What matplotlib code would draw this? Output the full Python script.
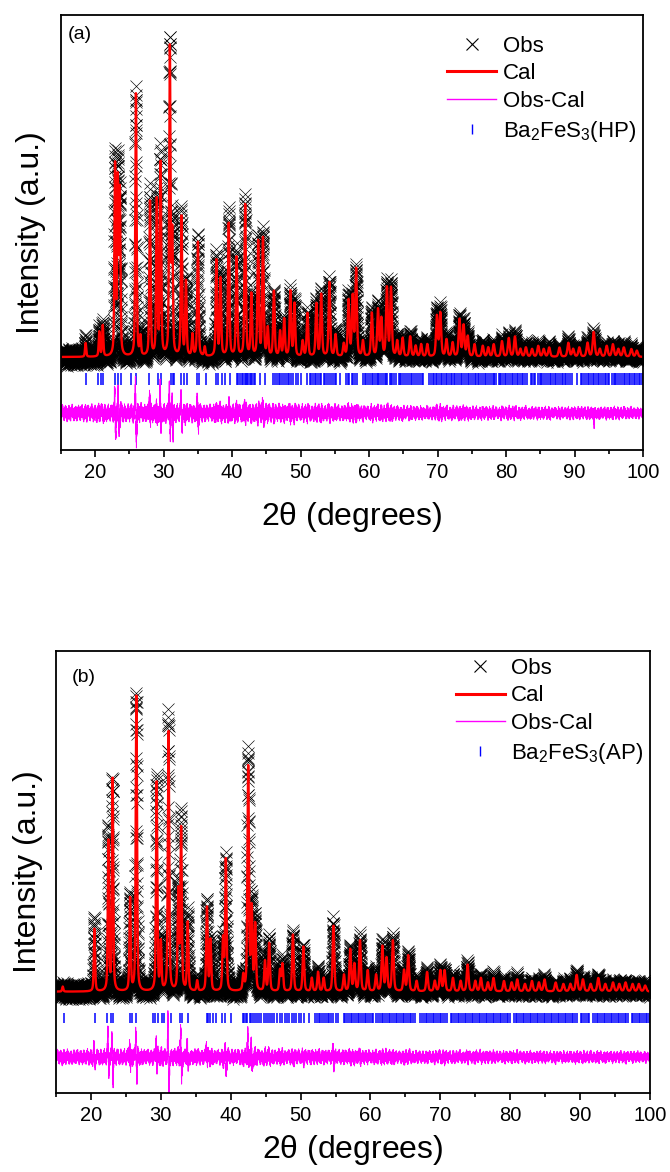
import numpy as np
import matplotlib.pyplot as plt
from matplotlib.lines import Line2D

plt.rcParams['font.family'] = ['Liberation Sans', 'DejaVu Sans']
plt.rcParams['mathtext.fontset'] = 'custom'
plt.rcParams['mathtext.rm'] = 'Liberation Sans'
plt.rcParams['mathtext.it'] = 'Liberation Sans'
plt.rcParams['mathtext.default'] = 'regular'

# 2theta grid of the scan (degrees)
tth = np.arange(15.0, 100.0001, 0.01)

# ---- (a) Ba2FeS3 high-pressure phase ----
pk_pos_a = [18.6, 20.6, 21.1, 22.9, 23.3, 23.6, 25.95, 26.6, 28.0, 29.0, 29.55, 30.9,
            31.25, 32.6, 33.25, 34.2, 35.0, 36.0, 37.7, 38.3, 39.5, 40.65, 41.9, 42.8,
            43.8, 44.5, 45.2, 46.1, 47.0, 47.6, 48.5, 49.1, 50.3, 51.0, 52.3, 53.0,
            54.2, 55.1, 56.3, 57.0, 57.6, 58.1, 59.1, 60.4, 61.3, 61.8, 62.6, 63.2,
            64.1, 64.9, 66.0, 66.8, 67.6, 68.5, 69.9, 70.4, 71.3, 72.2, 73.2, 73.8,
            74.4, 75.4, 76.6, 77.4, 78.2, 79.4, 80.4, 81.3, 82.1, 82.9, 83.8, 84.7,
            85.5, 86.3, 87.8, 89.1, 89.8, 90.7, 91.9, 92.8, 93.7, 94.7, 95.6, 96.4,
            97.2, 98.3, 99.1]
pk_amp_a = [4.5, 8, 10, 61, 55, 52, 85, 6, 50, 50, 62, 99,
            38, 45, 24, 7, 37, 3, 31, 25, 43, 32, 49, 20,
            37, 38, 9, 21, 8, 12, 21, 17, 5, 14, 17, 20,
            24, 7, 4, 18, 19, 28, 5, 14, 15, 12, 22, 22,
            5, 6, 6.5, 3.5, 4, 4, 13, 14, 5.5, 4.5, 12, 10,
            6.5, 4, 3.5, 3, 4, 5, 6, 6.5, 2.5, 3, 2.5, 3.5,
            2.5, 3, 3, 4.5, 2.5, 3, 4.5, 8, 2.5, 3.5, 4, 2.5,
            3, 2.5, 2]
ticks_a = [18.6, 20.4, 20.9, 21.2, 22.9, 23.4, 23.7, 25.3, 25.9, 27.9, 29.2, 29.6,
           31.0, 31.3, 31.5, 32.6, 32.9, 33.4, 34.8, 35.2, 36.2, 37.6, 37.9, 38.5,
           39.0, 39.7, 40.7, 40.9, 41.2, 41.5, 41.6, 41.9, 42.0, 42.2, 42.3, 42.6,
           42.7, 42.9, 43.2, 43.4, 44.0, 44.8, 46.0, 46.3, 46.5, 46.8, 47.0, 47.3,
           47.6, 47.8, 48.1, 48.3, 48.6, 48.9, 49.3, 49.6, 50.1, 51.0, 51.3, 51.5,
           51.8, 52.1, 52.2, 52.6, 52.8, 53.0, 53.4, 53.6, 53.9, 54.1, 54.4, 54.7,
           55.0, 55.2, 55.7, 56.6, 56.9, 57.1, 57.5, 57.7, 58.0, 58.2, 59.1, 59.4,
           59.5, 59.9, 60.1, 60.4, 60.6, 60.8, 61.1, 61.3, 61.4, 61.8, 62.0, 62.3,
           62.5, 62.6, 63.0, 63.2, 63.4, 63.7, 64.0, 64.3, 64.5, 64.7, 65.0, 65.3,
           65.6, 65.8, 66.1, 66.2, 66.6, 66.9, 67.2, 67.4, 67.7, 67.9, 68.7, 69.0,
           69.3, 69.5, 69.7, 69.9, 70.2, 70.5, 70.7, 70.9, 71.2, 71.4, 71.7, 71.9,
           72.1, 72.4, 72.6, 72.8, 73.1, 73.4, 73.6, 73.9, 74.2, 74.4, 74.6, 74.9,
           75.2, 75.4, 75.6, 75.9, 76.1, 76.4, 76.7, 76.9, 77.1, 77.4, 77.6, 77.9,
           78.2, 78.3, 78.6, 78.9, 79.1, 79.3, 79.6, 79.8, 80.0, 80.3, 80.6, 80.8,
           81.0, 81.3, 81.6, 81.8, 82.0, 82.3, 82.5, 82.8, 83.0, 83.6, 83.8, 84.1,
           84.3, 84.6, 84.9, 85.1, 85.3, 85.6, 85.8, 86.1, 86.4, 86.6, 86.8, 87.1,
           87.3, 87.6, 87.9, 88.1, 88.3, 88.6, 88.8, 89.1, 89.4, 89.6, 90.3, 90.9,
           91.1, 91.4, 91.7, 91.9, 92.1, 92.4, 92.7, 92.9, 93.1, 93.4, 93.6, 93.9,
           94.2, 94.4, 94.6, 94.9, 95.1, 95.4, 95.7, 95.9, 96.1, 96.4, 96.6, 96.9,
           97.2, 97.4, 97.6, 97.9, 98.1, 98.4, 98.7, 98.9, 99.1, 99.4, 99.6, 99.9]
# misfit features in Obs-Cal: position, positive lobe, negative lobe
sp_pos_a = [22.9, 23.4, 25.95, 28.0, 29.0, 29.55, 30.9, 31.3, 32.6, 35.0, 39.6, 41.9, 44.5, 92.8]
sp_up_a = [6.5, 5, 8, 6, 3, 7.5, 9, 5, 4, 4, 3, 4, 2, 0.5]
sp_dn_a = [7, 5, 7, 3, 3, 6, 7.5, 6, 4, 3, 2, 2, 2, 4]

# ---- (b) Ba2FeS3 ambient-pressure phase ----
pk_pos_b = [15.96, 20.5, 22.5, 23.1, 25.6, 26.5, 29.4, 30.0, 31.1, 32.5, 32.9, 33.85,
            35.2, 36.6, 37.1, 38.9, 39.3, 41.8, 42.5, 43.0, 43.5, 44.9, 45.5, 47.05,
            47.4, 48.9, 50.4, 51.6, 52.5, 53.3, 54.7, 56.2, 57.1, 57.7, 58.5, 59.6,
            60.8, 61.7, 62.3, 63.2, 64.8, 65.4, 66.6, 68.1, 69.2, 70.0, 70.6, 71.8,
            72.9, 73.9, 75.0, 75.8, 76.8, 77.6, 79.1, 80.2, 81.0, 82.1, 83.1, 84.1,
            84.9, 86.5, 87.6, 88.6, 89.5, 90.4, 91.5, 92.6, 93.6, 94.7, 95.6, 96.5,
            97.5, 98.4, 99.3]
pk_amp_b = [1.7, 21, 50, 71, 31, 99, 70, 16, 87, 33, 54, 23,
            3.5, 28, 17, 17, 44, 5, 75, 27, 22, 10, 16, 7,
            9, 19, 15, 4.5, 6.5, 4.5, 22, 5.5, 14, 9, 17, 7,
            5.5, 15, 11, 17, 7, 12, 3.5, 6.5, 3.5, 7, 7, 4.5,
            3.5, 9, 3.5, 4.5, 3, 4.5, 3.5, 3, 4, 2.5, 3.5, 3,
            4, 3, 2.5, 2.5, 5.5, 4, 2.5, 4.5, 2.5, 3, 2.5, 3,
            2.5, 2.5, 2]
ticks_b = [16.2, 20.6, 22.3, 22.8, 23.2, 25.6, 25.9, 26.4, 28.9, 29.2, 29.6, 30.1,
           30.5, 31.0, 31.4, 32.7, 33.0, 33.9, 36.6, 36.8, 37.1, 37.4, 37.9, 38.8,
           39.2, 40.0, 41.7, 41.9, 42.2, 42.4, 42.7, 42.9, 43.2, 43.5, 43.8, 44.0,
           44.4, 44.7, 45.0, 45.3, 45.6, 45.9, 46.2, 46.6, 47.0, 47.4, 47.7, 48.0,
           48.3, 48.7, 49.0, 49.4, 49.7, 50.1, 50.5, 51.2, 52.1, 52.3, 52.6, 52.8,
           53.1, 53.3, 53.6, 53.9, 54.1, 54.4, 54.7, 55.0, 55.3, 56.2, 56.4, 56.7,
           56.9, 57.2, 57.4, 57.7, 57.9, 58.2, 58.4, 58.7, 58.9, 59.2, 59.4, 59.7,
           59.9, 60.2, 60.4, 60.8, 61.1, 61.3, 61.6, 61.8, 62.1, 62.3, 62.6, 62.8,
           63.1, 63.3, 63.6, 63.8, 64.1, 64.3, 64.6, 64.8, 65.1, 65.3, 65.6, 65.8,
           66.1, 66.3, 67.1, 67.4, 67.6, 67.9, 68.1, 68.4, 68.6, 68.9, 69.1, 69.4,
           69.6, 69.9, 70.1, 70.4, 70.6, 70.9, 71.5, 71.7, 72.0, 72.2, 72.5, 72.7,
           73.0, 73.2, 73.5, 73.7, 74.0, 74.2, 74.5, 74.7, 75.0, 75.2, 75.5, 75.7,
           76.0, 76.2, 76.5, 76.7, 77.0, 77.2, 77.5, 77.7, 78.0, 78.2, 78.5, 78.7,
           79.0, 79.2, 79.5, 79.7, 80.0, 80.5, 80.8, 81.0, 81.3, 81.5, 81.8, 82.0,
           82.3, 82.5, 82.8, 83.0, 83.3, 83.5, 83.8, 84.0, 84.3, 84.5, 84.8, 85.0,
           85.3, 85.5, 85.8, 86.0, 86.3, 86.5, 86.8, 87.0, 87.3, 87.5, 87.8, 88.0,
           88.3, 88.5, 88.8, 89.0, 89.3, 89.6, 90.1, 90.3, 90.6, 90.8, 91.1, 91.3,
           91.9, 92.1, 92.4, 92.6, 92.9, 93.1, 93.4, 93.6, 93.9, 94.1, 94.4, 94.6,
           94.9, 95.1, 95.4, 95.6, 95.9, 96.1, 96.4, 96.6, 96.9, 97.4, 97.6, 97.9,
           98.1, 98.4, 98.6, 98.9, 99.1, 99.4, 99.6, 99.9]
sp_pos_b = [20.5, 22.5, 23.1, 25.6, 26.5, 29.4, 31.1, 32.9, 33.85, 36.6, 39.3, 42.5, 43.0, 54.7]
sp_up_b = [3, 8, 7, 5, 9, 6, 12, 10, 4, 4.5, 2, 7, 5, 2.5]
sp_dn_b = [2, 4, 7.5, 3, 8, 3.5, 11, 7.5, 4, 2, 4, 3, 4, 2]

# counting scatter: a fast and a slow residual pattern (normalised), repeated along the scan
resid_fast = [0.31, -0.72, 0.55, -0.18, 0.93, -0.47, 0.12, -0.88, 0.66, 0.04,
              -0.35, 0.79, -0.61, 0.27, -0.95, 0.48, -0.09, 0.71, -0.53, 0.38,
              -0.24, 0.86, -0.77, 0.15, -0.42, 0.59, -0.66, 0.97, -0.13, 0.22,
              -0.84, 0.44, -0.31, 0.68, -0.57, 0.08, -0.92, 0.51, -0.20, 0.75,
              -0.39, 0.63, -0.70, 0.19, -0.05, 0.82, -0.64, 0.35, -0.99, 0.57,
              -0.28, 0.11, -0.50]
resid_slow = [0.2, 0.6, 0.9, 0.4, -0.3, -0.8, -0.5, 0.1, 0.7, 0.3, -0.6, -0.9, -0.2,
              0.5, 0.8, 0.0, -0.4, -0.7]
noise_x = [15, 45, 65, 100]
noise_a = [1.9, 1.8, 1.4, 1.2]
noise_b = [1.8, 1.7, 1.4, 1.2]


def pvoigt(x, pos, amp, w_lo=0.2, w_hi=0.36, eta=0.45):
    y = np.zeros_like(x)
    for p, a in zip(pos, amp):
        w = w_lo + (w_hi - w_lo) * (p - 15) / 85
        g = np.exp(-4 * np.log(2) * ((x - p) / w) ** 2)
        l = 1 / (1 + 4 * ((x - p) / w) ** 2)
        y += a * (eta * l + (1 - eta) * g)
    return y


def misfit(x, pos, up, dn, s=0.05):
    y = np.zeros_like(x)
    for p, u, d in zip(pos, up, dn):
        y += u * np.exp(-0.5 * ((x - p + 0.07) / s) ** 2)
        y -= d * np.exp(-0.5 * ((x - p - 0.07) / s) ** 2)
    return y


def panel(ax, pos, amp, ticks, sp_pos, sp_up, sp_dn, namp, phase, letter,
          ylim, tick_y, diff_y, tick_ms, leg_top, label_xy):
    cal = pvoigt(tth, pos, amp)
    pattern = np.resize(resid_fast, tth.size) + 0.6 * np.resize(np.repeat(resid_slow, 8), tth.size)
    scatter = pattern * (np.interp(tth, noise_x, namp) + 0.22 * np.sqrt(cal))
    obs = cal + scatter + misfit(tth, sp_pos, sp_up, sp_dn)
    diff = obs - cal

    ax.plot(tth, obs, linestyle='none', marker='x', color='black', ms=8, mew=0.45, zorder=1)
    ax.plot(tth, cal, color='red', lw=1.7, zorder=2)
    ax.plot(ticks, np.full(len(ticks), tick_y), linestyle='none', marker='|',
            color='blue', ms=tick_ms, mew=1.1, zorder=2)
    ax.plot(tth, diff + diff_y, color='magenta', lw=0.7, zorder=2)

    ax.set_xlim(15, 100)
    ax.set_ylim(*ylim)
    ax.set_xticks(range(20, 101, 10))
    ax.set_xticks(range(15, 101, 10), minor=True)
    ax.set_yticks([])
    ax.tick_params(axis='x', which='major', length=5, width=1.2, labelsize=14.5, pad=4)
    ax.tick_params(axis='x', which='minor', length=3, width=1.2)
    for s in ax.spines.values():
        s.set_linewidth(1.3)
    ax.set_xlabel(r'2$\theta$ (degrees)', fontsize=23)
    ax.set_ylabel('Intensity (a.u.)', fontsize=23)
    ax.text(label_xy[0], label_xy[1], letter, transform=ax.transAxes, fontsize=14, va='center')

    handles = [
        Line2D([], [], linestyle='none', marker='x', color='black', ms=8, mew=0.8),
        Line2D([], [], color='red', lw=2.2),
        Line2D([], [], color='magenta', lw=1.0),
        Line2D([], [], linestyle='none', marker='|', color='blue', ms=7, mew=1.0),
    ]
    labels = ['Obs', 'Cal', 'Obs-Cal', 'Ba$_2$FeS$_3$(' + phase + ')']
    ax.legend(handles, labels, loc='upper right', bbox_to_anchor=(1.0, leg_top),
              frameon=False, fontsize=16, handlelength=2.2, handletextpad=0.3,
              labelspacing=0.3, borderpad=0.2, borderaxespad=0.1, numpoints=1)


fig = plt.figure(figsize=(6.7, 11.72), dpi=100)
ax_a = fig.add_axes([0.091, 0.616, 0.8687, 0.3712])
ax_b = fig.add_axes([0.0836, 0.0674, 0.8866, 0.3771])

panel(ax_a, pk_pos_a, pk_amp_a, ticks_a, sp_pos_a, sp_up_a, sp_dn_a, noise_a, 'HP', '(a)',
      (-30.1, 110.7), -7.0, -18.1, 8, 0.968, (0.012, 0.955))
panel(ax_b, pk_pos_b, pk_amp_b, ticks_b, sp_pos_b, sp_up_b, sp_dn_b, noise_b, 'AP', '(b)',
      (-34.0, 114.3), -8.8, -21.9, 7.5, 1.0, (0.027, 0.941))

ax_a.yaxis.set_label_coords(-0.026, 0.5)
ax_b.yaxis.set_label_coords(-0.022, 0.5)
ax_a.xaxis.set_label_coords(0.5, -0.115)
ax_b.xaxis.set_label_coords(0.5, -0.09)

fig.savefig('out.png', dpi=100)
